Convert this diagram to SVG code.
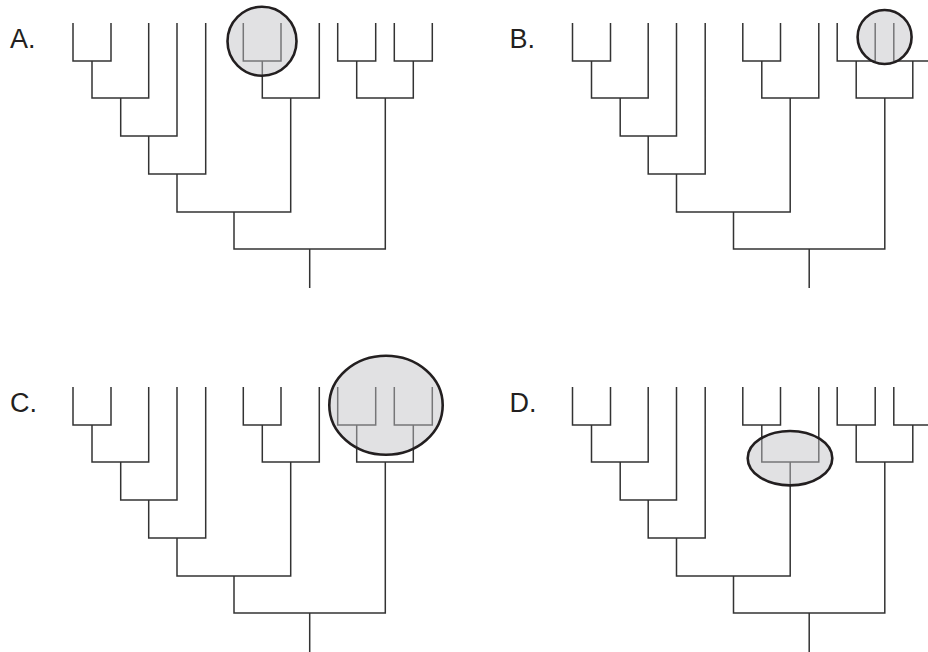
<svg xmlns="http://www.w3.org/2000/svg" xmlns:xlink="http://www.w3.org/1999/xlink" width="928" height="652" viewBox="0 0 928 652">
<style>
.br{fill:none;stroke:#333333;stroke-width:1.5;stroke-linecap:butt;stroke-linejoin:miter}
.hl{fill:#c0c1c4;fill-opacity:0.48;stroke:#231f20;stroke-width:2.6}
.lbl{font-family:"Liberation Sans",Arial,sans-serif;font-size:27px;fill:#231f20}
</style>
<defs>
<g id="tree">
<path class="br" d="M73,23V61H111V23 M92,61V98H148.7V23 M120.7,98V136H177V23 M148.7,136V174H205.7V23 M243.3,23V61H281V23 M262.3,61V98H319.3V23 M177,174V212H290.7V98 M337.7,23V61H375.7V23 M394.3,23V61H432.3V23 M356.7,61V98H413.3V61 M234,212V249H385.3V98 M309.7,249V288"/>
</g>
</defs>
<rect width="928" height="652" fill="#ffffff"/>
<g id="connectors">
<use xlink:href="#tree" href="#tree"/>
<use xlink:href="#tree" href="#tree" transform="translate(499.5,0)"/>
<use xlink:href="#tree" href="#tree" transform="translate(0,364)"/>
<use xlink:href="#tree" href="#tree" transform="translate(499.5,364)"/>
</g>
<g id="panel-a">
<text class="lbl" x="10" y="47.5">A.</text>
<circle class="hl" cx="262" cy="41.3" r="34.5"/>
</g>
<g id="panel-b">
<text class="lbl" x="509.5" y="47.5">B.</text>
<circle class="hl" cx="884.6" cy="37" r="27"/>
</g>
<g id="panel-c">
<text class="lbl" x="10" y="411.5">C.</text>
<ellipse class="hl" cx="386" cy="405.2" rx="56.7" ry="49.5"/>
</g>
<g id="panel-d">
<text class="lbl" x="509.5" y="411.5">D.</text>
<ellipse class="hl" cx="790" cy="458.2" rx="42.3" ry="27.2"/>
</g>
</svg>
